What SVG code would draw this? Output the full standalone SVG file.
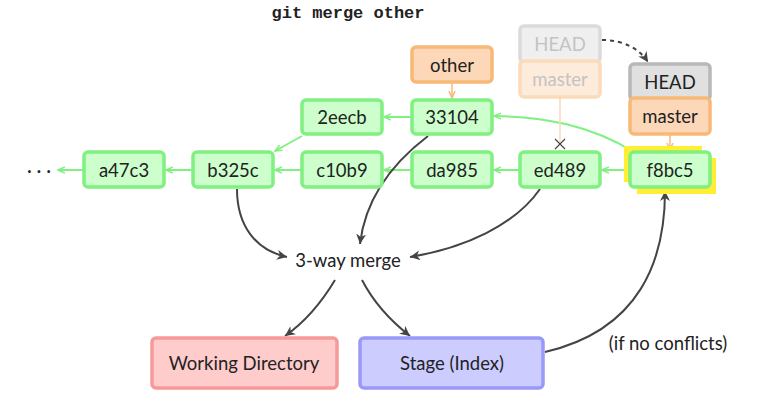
<svg xmlns="http://www.w3.org/2000/svg" width="764" height="401" viewBox="0 0 764 401">
<style>
text{font-family:Lato,"Liberation Sans",sans-serif;font-size:18.5px;fill:#222;text-anchor:middle;dominant-baseline:central}
.c{fill:#ccffcc;stroke:#80f080;stroke-width:3.5}
.b{fill:#fdd8b8;stroke:#f8b878;stroke-width:3.5}
.h{fill:#e0e0e0;stroke:#b8b8b8;stroke-width:3.5}
.g{stroke:#80f080;stroke-width:2;fill:none;marker-end:url(#ag)}
.k{stroke:#444;stroke-width:2;fill:none;marker-end:url(#ak)}
</style>
<defs>
<marker id="ag" markerWidth="8" markerHeight="8" refX="7" refY="4" orient="auto" markerUnits="userSpaceOnUse"><path d="M0,1 L7,4 L0,7" fill="none" stroke="#80f080" stroke-width="1.5"/></marker>
<marker id="ak" markerWidth="12" markerHeight="10" refX="10" refY="5" orient="auto" markerUnits="userSpaceOnUse"><path d="M0,0 L10,5 L0,10 L3,5z" fill="#444"/></marker>
<marker id="ao" markerWidth="8" markerHeight="8" refX="7" refY="4" orient="auto" markerUnits="userSpaceOnUse"><path d="M0,1 L7,4 L0,7" fill="none" stroke="#f8b878" stroke-width="1.5"/></marker>
</defs>
<text x="348" y="13" style="font-family:'Liberation Mono',monospace;font-size:17px;font-weight:bold">git merge other</text>
<g id="connectors">
<path class="g" d="M84,170 H58"/>
<path class="g" d="M193,170 H166"/>
<path class="g" d="M302,170 H275"/>
<path class="g" d="M412,170 H384"/>
<path class="g" d="M520,170 H494"/>
<path class="g" d="M630,170 H602"/>
<path class="g" d="M412,117 H384"/>
<path class="g" d="M302,136 L275,151"/>
<path class="g" d="M634,152 C590,125 545,117 494,116"/>
<path d="M452,82 V98" stroke="#f8b878" stroke-width="1.5" marker-end="url(#ao)"/>
<path d="M670,134 V150" stroke="#f8b878" stroke-width="1.5" marker-end="url(#ao)"/>
<path d="M560,97 V142" stroke="#fbd8bb" stroke-width="1.5"/>
<path d="M555,139 L565,149 M565,139 L555,149" stroke="#444" stroke-width="1.2"/>
<path d="M602,40 C625,40 640,50 648,62" stroke="#444" stroke-width="2" fill="none" stroke-dasharray="4,4" marker-end="url(#ak)"/>
<path class="k" d="M237,189 C237,225 255,250 287,257"/>
<path class="k" d="M428,136 C390,165 365,200 360,244"/>
<path class="k" d="M540,189 C515,225 465,248 410,257"/>
<path class="k" d="M335,280 C320,305 305,322 285,336"/>
<path class="k" d="M362,280 C375,305 392,322 410,336"/>
<path class="k" d="M545,352 C640,330 665,260 665,191"/>
</g>
<g id="a47c3"><rect class="c" x="84" y="152" width="80" height="35" rx="4"/><text x="124" y="170">a47c3</text></g>
<text x="39" y="170">· · ·</text>
<g id="b325c"><rect class="c" x="193" y="152" width="80" height="35" rx="4"/><text x="233" y="170">b325c</text></g>
<g id="c10b9"><rect class="c" x="302" y="152" width="80" height="35" rx="4"/><text x="342" y="170">c10b9</text></g>
<g id="da985"><rect class="c" x="412" y="152" width="80" height="35" rx="4"/><text x="452" y="170">da985</text></g>
<g id="ed489"><rect class="c" x="520" y="152" width="80" height="35" rx="4"/><text x="560" y="170">ed489</text></g>
<g id="f8bc5"><rect x="624" y="146" width="78" height="36" fill="#ffee33"/><rect x="637" y="158" width="79" height="36" fill="#ffee33"/><rect class="c" x="630" y="152" width="80" height="35" rx="4"/><text x="670" y="170">f8bc5</text></g>
<g id="2eecb"><rect class="c" x="302" y="100" width="80" height="34" rx="4"/><text x="342" y="117">2eecb</text></g>
<g id="33104"><rect class="c" x="412" y="100" width="80" height="34" rx="4"/><text x="452" y="117">33104</text></g>
<g id="other"><rect class="b" x="412" y="47" width="80" height="35" rx="4"/><text x="452" y="65">other</text></g>
<g id="oldhead" opacity="0.5"><rect class="h" x="520" y="26" width="80" height="36" rx="4"/><text x="560" y="44" style="fill:#888">HEAD</text><rect class="b" x="520" y="61" width="80" height="36" rx="4"/><text x="560" y="79" style="fill:#888">master</text></g>
<g id="head"><rect class="h" x="630" y="64" width="80" height="36" rx="4"/><text x="670" y="82">HEAD</text><rect class="b" x="630" y="98" width="80" height="36" rx="4"/><text x="670" y="116">master</text></g>
<g id="merge"><text x="348" y="260">3-way merge</text></g>
<g id="wd"><rect x="152" y="338" width="185" height="50" rx="4" fill="#ffcccc" stroke="#f89999" stroke-width="3.5"/><text x="244" y="363">Working Directory</text></g>
<g id="stage"><rect x="360" y="338" width="183" height="50" rx="4" fill="#ccccff" stroke="#9999f8" stroke-width="3.5"/><text x="452" y="363">Stage (Index)</text></g>
<text x="668" y="343">(if no conflicts)</text>
</svg>
